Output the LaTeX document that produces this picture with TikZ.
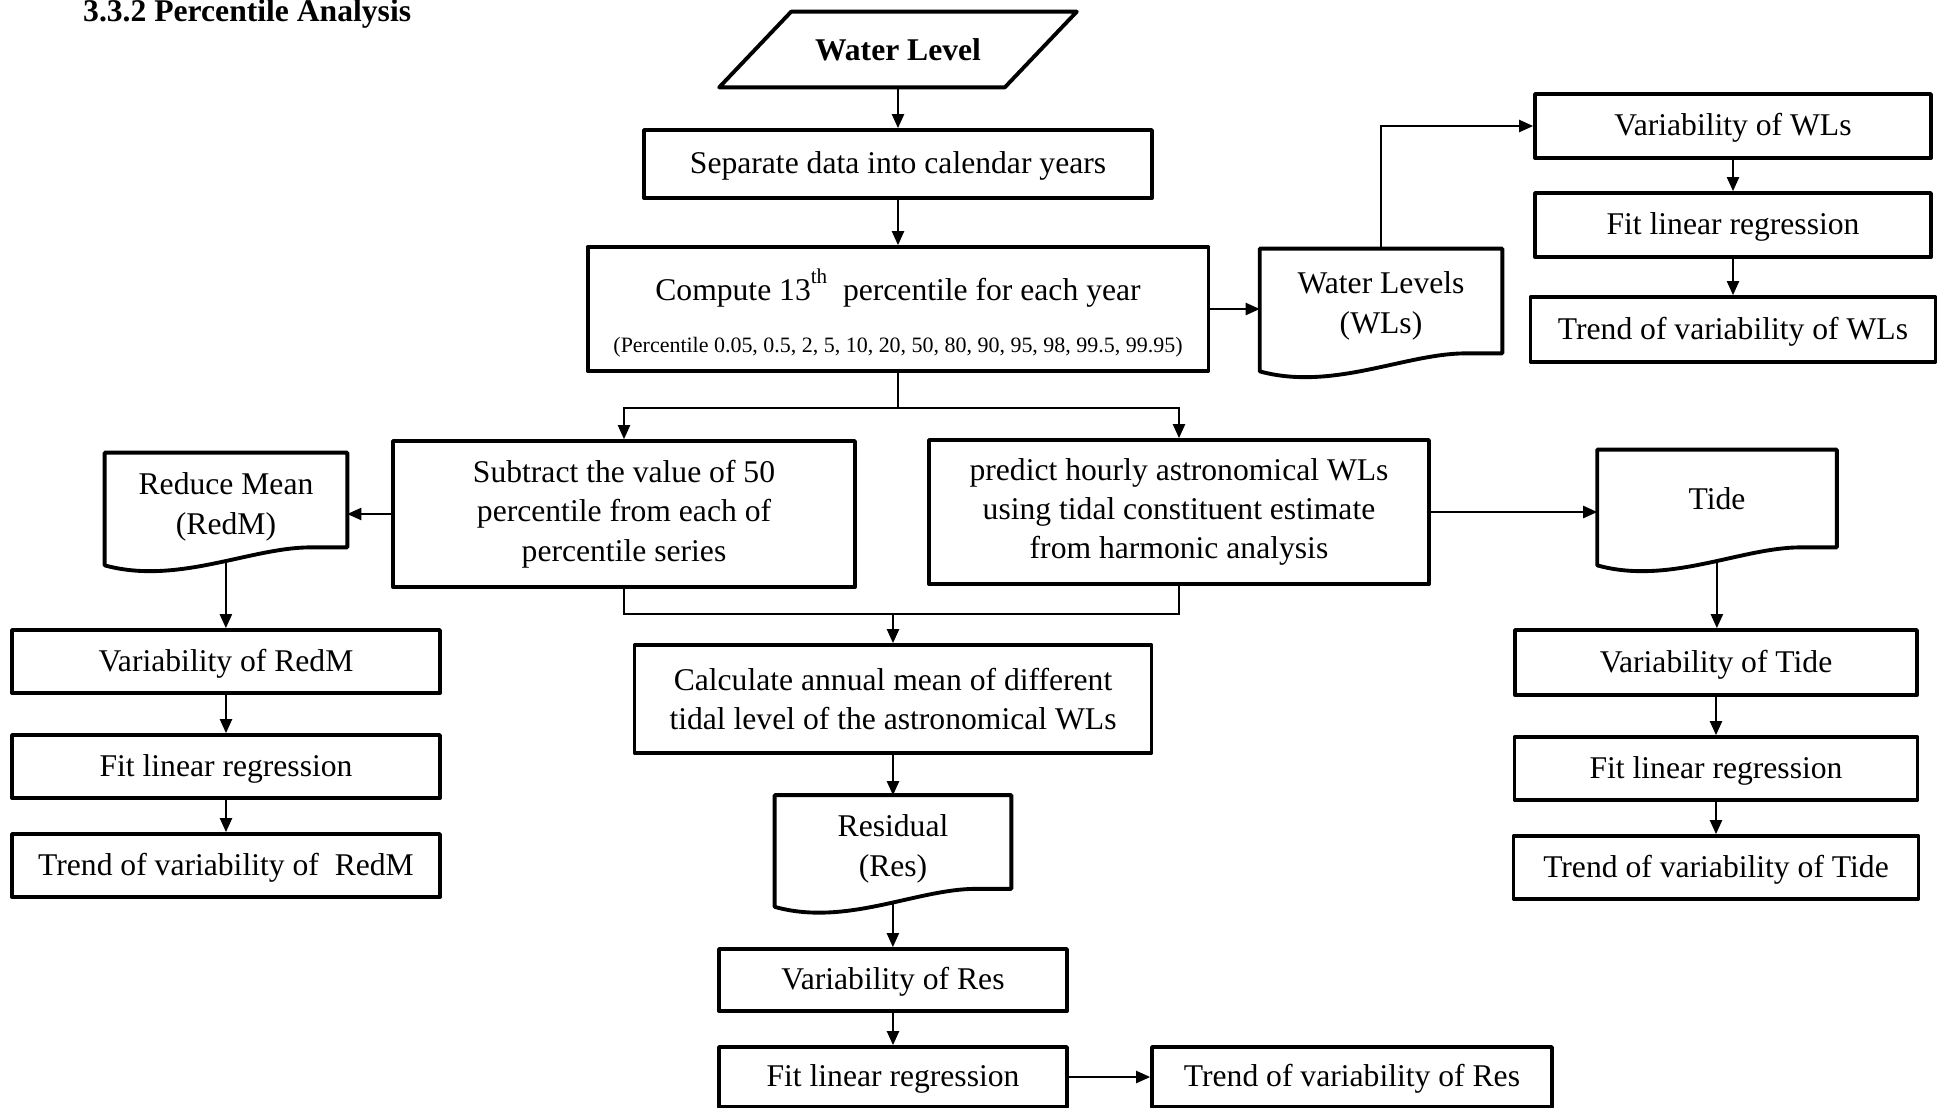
\documentclass[tikz,border=0pt]{standalone}
\usepackage{fontspec}
\setmainfont{Liberation Serif}
\usetikzlibrary{arrows.meta,calc}

% document symbol drawn round a named node, wave at the bottom
% optional #1: how far the drawn symbol sits above the node
\newcommand{\docshape}[2][0]{%
  \draw[docline] ($(#2.south west)+(0,18-#1)$)
    .. controls ($(#2.south west)!0.3!(#2.south east)+(0,38-#1)$)
    and ($(#2.south west)!0.6!(#2.south east)+(0,-#1)$)
    .. ($(#2.south west)!0.85!(#2.south east)+(0,-#1)$) coordinate[pos=0.565] (#2-b)
    -- ($(#2.south east)+(0,-#1)$) -- ($(#2.north east)+(0,-#1)$)
    -- ($(#2.north west)+(0,-#1)$) -- cycle;}

\begin{document}
\begin{tikzpicture}[x=0.02cm,y=-0.02cm,
  box/.style={draw,line width=2.2pt,line join=round,inner sep=0pt,align=center,
    font=\fontsize{18}{22.4}\selectfont},
  onebox/.style={box,text height=14pt,text depth=2.7pt},
  docbox/.style={inner sep=0pt,align=center,font=\fontsize{18}{22.4}\selectfont},
  docline/.style={line width=2.2pt,line join=round},
  arr/.style={line width=0.9pt,-{Triangle[length=8pt,width=7pt]}},
  conn/.style={line width=0.9pt}]
\useasboundingbox (0,0) rectangle (1938,1107);

\node[anchor=base west,font=\bfseries\fontsize{18}{22}\selectfont] (title) at (77,21) {3.3.2 Percentile Analysis};

% input
\node[docbox,font=\bfseries\fontsize{18}{22}\selectfont,minimum width=5.7cm,minimum height=1.5cm] (wlin) at (898,49.5) {Water Level};
\draw[docline] ($(wlin.north west)+(36,0)$) -- ($(wlin.north east)+(36,0)$)
  -- ($(wlin.south east)+(-36,0)$) -- ($(wlin.south west)+(-36,0)$) -- cycle;

\node[onebox,minimum width=10.16cm,minimum height=1.36cm] (sep) at (898,164) {Separate data into calendar years};
\node[box,minimum width=12.42cm,minimum height=2.48cm] (comp) at (898,309)
  {\rule{0pt}{22.5pt}Compute 13\raisebox{10pt}{\fontsize{12}{12}\selectfont th}\ \ percentile for each year\\[7pt]
   {\fontsize{12.5}{14}\selectfont(Percentile 0.05, 0.5, 2, 5, 10, 20, 50, 80, 90, 95, 98, 99.5, 99.95)}};

% water levels branch
\node[docbox,minimum width=4.84cm,minimum height=2.08cm] (wl) at (1381,306) {Water Levels\\(WLs)};
\docshape[5]{wl}
\node[onebox,minimum width=7.92cm,minimum height=1.28cm] (varwl) at (1733,126) {Variability of WLs};
\node[onebox,minimum width=7.92cm,minimum height=1.28cm] (fitwl) at (1733,225) {Fit linear regression};
\node[onebox,minimum width=8.1cm,minimum height=1.3cm] (trendwl) at (1733,329.5) {Trend of variability of WLs};

% middle row
\node[box,minimum width=9.24cm,minimum height=2.92cm] (sub) at (624,514)
  {Subtract the value of 50\\percentile from each of\\percentile series};
\node[box,minimum width=10cm,minimum height=2.88cm] (pred) at (1179,512)
  {predict hourly astronomical WLs\\using tidal constituent estimate\\from harmonic analysis};
\node[docbox,minimum width=4.84cm,minimum height=1.88cm] (redm) at (226,507) {Reduce Mean\\(RedM)};
\docshape[7]{redm}
\node[docbox,minimum width=4.78cm,minimum height=1.94cm] (tide) at (1717,498.5) {Tide};
\docshape{tide}

% left column
\node[onebox,minimum width=8.56cm,minimum height=1.26cm] (varredm) at (226,661.5) {Variability of RedM};
\node[onebox,minimum width=8.56cm,minimum height=1.26cm] (fitredm) at (226,766.5) {Fit linear regression};
\node[onebox,minimum width=8.56cm,minimum height=1.26cm] (trendredm) at (226,865.5) {Trend of variability of \ RedM};

% right column
\node[onebox,minimum width=8.04cm,minimum height=1.3cm] (vartide) at (1716,662.5) {Variability of Tide};
\node[onebox,minimum width=8.06cm,minimum height=1.26cm] (fittide) at (1716,768.5) {Fit linear regression};
\node[onebox,minimum width=8.1cm,minimum height=1.26cm] (trendtide) at (1716,867.5) {Trend of variability of Tide};

% residual column
\node[box,minimum width=10.34cm,minimum height=2.16cm] (calc) at (893,699)
  {Calculate annual mean of different\\tidal level of the astronomical WLs};
\node[docbox,minimum width=4.72cm,minimum height=1.86cm] (res) at (893,849) {Residual\\(Res)};
\docshape[7]{res}
\node[onebox,minimum width=6.96cm,minimum height=1.24cm] (varres) at (893,980) {Variability of Res};
\node[onebox,minimum width=6.96cm,minimum height=1.2cm] (fitres) at (893,1077) {Fit linear regression};
\node[onebox,minimum width=8cm,minimum height=1.2cm] (trendres) at (1352,1077) {Trend of variability of Res};

\coordinate (split) at (898,408);
\coordinate (merge) at (893,614);

% connectors
\draw[arr] (wlin.south) -- (wlin.south |- sep.north);
\draw[arr] (sep.south) -- (comp.north);
\draw[arr] (comp.east) -- (comp.east -| wl.west);
\draw[arr] (wl.north) ++(0,-5) |- (varwl.west);
\draw[arr] (varwl) -- (fitwl);
\draw[arr] (fitwl.south) -- (fitwl.south |- trendwl.north);
\draw[conn] (comp.south) -- (split);
\draw[arr] (split) -| (sub.north);
\draw[arr] (split) -| (pred.north);
\draw[arr] (sub.west) -- (sub.west -| redm.east);
\draw[arr] (pred.east) -- (pred.east -| tide.west);
\draw[arr] (redm-b) -- (redm-b |- varredm.north);
\draw[arr] (varredm) -- (fitredm);
\draw[arr] (fitredm) -- (trendredm);
\draw[arr] (tide-b) -- (tide-b |- vartide.north);
\draw[arr] (vartide) -- (fittide);
\draw[arr] (fittide) -- (trendtide);
\draw[conn] (sub.south) |- (merge) -| (pred.south);
\draw[arr] (merge) -- (calc.north);
\draw[arr] (calc.south) -- ($(res.north)+(0,-7)$);
\draw[arr] (res-b) -- (res-b |- varres.north);
\draw[arr] (varres) -- (fitres);
\draw[arr] (fitres) -- (trendres);
\end{tikzpicture}
\end{document}
